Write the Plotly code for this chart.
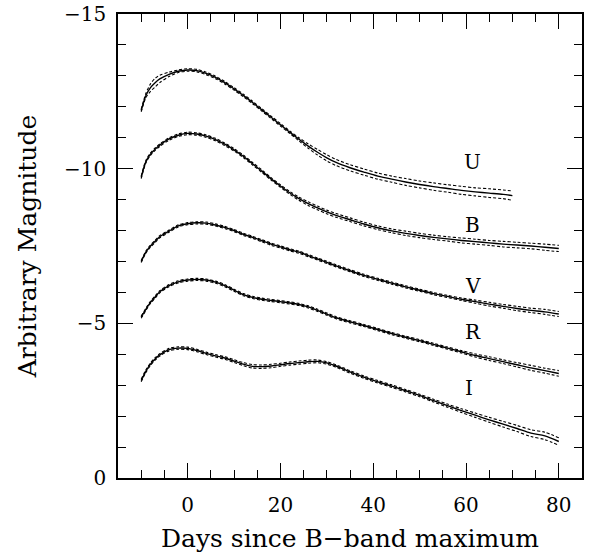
import plotly.graph_objects as go

# Epochs (days relative to B-band maximum)
days = [-10, -9, -8, -7, -6, -4, -2, 0, 2, 4, 6, 8, 10, 12, 14, 16, 18, 20, 22, 24,
        26, 28, 30, 32, 35, 38, 41, 44, 47, 50, 53, 56, 59, 62, 65, 68, 71, 74, 77, 80]
days_u = [-10, -9, -8, -7, -6, -4, -2, 0, 2, 4, 6, 8, 10, 12, 14, 16, 18, 20, 22, 24,
          26, 28, 30, 32, 35, 38, 41, 44, 47, 50, 53, 56, 59, 62, 65, 68, 70]

# Mean template magnitudes (arbitrary offsets per band)
u_mag = [-11.88, -12.36, -12.62, -12.78, -12.90, -13.05, -13.15, -13.19, -13.17, -13.08,
         -12.95, -12.78, -12.58, -12.37, -12.14, -11.90, -11.66, -11.42, -11.18, -10.95,
         -10.73, -10.53, -10.35, -10.20, -10.03, -9.89, -9.76, -9.66, -9.57, -9.49,
         -9.42, -9.36, -9.30, -9.25, -9.21, -9.17, -9.13]
b_mag = [-9.72, -10.22, -10.47, -10.63, -10.76, -10.96, -11.08, -11.14, -11.12, -11.05,
         -10.94, -10.79, -10.61, -10.40, -10.16, -9.92, -9.67, -9.44, -9.22, -9.03,
         -8.87, -8.73, -8.60, -8.49, -8.35, -8.21, -8.09, -7.99, -7.91, -7.84,
         -7.78, -7.73, -7.68, -7.64, -7.60, -7.56, -7.53, -7.50, -7.46, -7.42]
v_mag = [-7.00, -7.30, -7.50, -7.65, -7.80, -7.98, -8.15, -8.22, -8.25, -8.24,
         -8.18, -8.10, -8.00, -7.88, -7.78, -7.67, -7.56, -7.47, -7.38, -7.30,
         -7.19, -7.08, -6.97, -6.86, -6.70, -6.55, -6.42, -6.30, -6.18, -6.07,
         -5.96, -5.87, -5.78, -5.70, -5.62, -5.55, -5.48, -5.42, -5.37, -5.30]
r_mag = [-5.20, -5.45, -5.68, -5.85, -6.02, -6.22, -6.34, -6.40, -6.42, -6.40,
         -6.33, -6.22, -6.07, -5.93, -5.84, -5.78, -5.74, -5.70, -5.66, -5.61,
         -5.53, -5.42, -5.30, -5.18, -5.05, -4.93, -4.80, -4.67, -4.55, -4.44,
         -4.32, -4.20, -4.08, -3.96, -3.86, -3.76, -3.66, -3.56, -3.47, -3.38]
i_mag = [-3.15, -3.45, -3.68, -3.85, -3.98, -4.15, -4.20, -4.19, -4.12, -4.03,
         -3.95, -3.88, -3.78, -3.68, -3.61, -3.60, -3.62, -3.66, -3.70, -3.73,
         -3.76, -3.77, -3.72, -3.62, -3.43, -3.26, -3.11, -2.97, -2.82, -2.67,
         -2.50, -2.34, -2.18, -2.03, -1.88, -1.74, -1.60, -1.45, -1.36, -1.18]

# 1-sigma dispersion of each template
u_sig = [0.04, 0.07, 0.12, 0.14, 0.12, 0.07, 0.04, 0.04, 0.04, 0.04,
         0.04, 0.04, 0.04, 0.04, 0.04, 0.04, 0.04, 0.04, 0.04, 0.05,
         0.07, 0.09, 0.10, 0.10, 0.10, 0.10, 0.10, 0.10, 0.11, 0.11,
         0.12, 0.12, 0.13, 0.13, 0.14, 0.14, 0.15]
b_sig = [0.04, 0.04, 0.04, 0.04, 0.04, 0.04, 0.04, 0.04, 0.04, 0.04,
         0.04, 0.04, 0.04, 0.04, 0.04, 0.04, 0.04, 0.04, 0.045, 0.05,
         0.06, 0.06, 0.06, 0.06, 0.06, 0.06, 0.06, 0.06, 0.07, 0.07,
         0.07, 0.07, 0.08, 0.08, 0.08, 0.09, 0.09, 0.09, 0.10, 0.10]
v_sig = [0.035, 0.035, 0.035, 0.035, 0.035, 0.035, 0.035, 0.035, 0.035, 0.035,
         0.035, 0.035, 0.035, 0.035, 0.035, 0.035, 0.035, 0.035, 0.035, 0.035,
         0.035, 0.035, 0.035, 0.035, 0.035, 0.035, 0.035, 0.035, 0.035, 0.035,
         0.035, 0.035, 0.04, 0.05, 0.06, 0.06, 0.07, 0.07, 0.08, 0.08]
r_sig = [0.035, 0.035, 0.035, 0.035, 0.035, 0.035, 0.035, 0.035, 0.035, 0.035,
         0.035, 0.035, 0.035, 0.035, 0.035, 0.035, 0.035, 0.035, 0.035, 0.035,
         0.035, 0.035, 0.035, 0.035, 0.035, 0.035, 0.035, 0.035, 0.035, 0.035,
         0.035, 0.035, 0.04, 0.05, 0.06, 0.06, 0.07, 0.08, 0.08, 0.09]
i_sig = [0.04, 0.04, 0.04, 0.04, 0.04, 0.04, 0.04, 0.04, 0.04, 0.04,
         0.04, 0.04, 0.045, 0.05, 0.055, 0.055, 0.055, 0.05, 0.05, 0.05,
         0.05, 0.045, 0.04, 0.04, 0.04, 0.04, 0.04, 0.04, 0.04, 0.04,
         0.045, 0.05, 0.06, 0.07, 0.08, 0.09, 0.10, 0.11, 0.12, 0.12]

band_names = ["U", "B", "V", "R", "I"]
label_day = [61.5, 61.5, 61.4, 61.5, 60.7]
label_mag = [-10.22, -8.18, -6.22, -4.73, -2.90]

bands = [
    (days_u, u_mag, u_sig),
    (days, b_mag, b_sig),
    (days, v_mag, v_sig),
    (days, r_mag, r_sig),
    (days, i_mag, i_sig),
]

FONT = "DejaVu Serif"
fig = go.Figure()

for name, (t, m, s) in zip(band_names, bands):
    upper = [a - e for a, e in zip(m, s)]
    lower = [a + e for a, e in zip(m, s)]
    for env in (upper, lower):
        fig.add_trace(go.Scatter(
            x=t, y=env, mode="lines", showlegend=False, hoverinfo="skip",
            line=dict(color="black", width=1.1, dash="3px,2px", shape="spline", smoothing=0.8),
        ))
    fig.add_trace(go.Scatter(
        x=t, y=m, mode="lines", name=name, showlegend=False,
        line=dict(color="black", width=1.4, shape="spline", smoothing=0.8),
    ))

for name, xd, yd in zip(band_names, label_day, label_mag):
    fig.add_annotation(x=xd, y=yd, text=name, showarrow=False,
                       font=dict(family=FONT, size=20, color="black"))

axis_common = dict(
    showgrid=False, zeroline=False, showline=True, linecolor="black", linewidth=1.5,
    mirror="ticks", ticks="inside", tickcolor="black", tickwidth=1.2, ticklen=15,
    tickfont=dict(family=FONT, size=20, color="black"), automargin=False,
)

fig.update_xaxes(
    range=[-15, 85], tick0=0, dtick=20,
    minor=dict(dtick=5, ticks="inside", ticklen=8, tickcolor="black", tickwidth=1.2),
    title=dict(text="Days since B\u2212band maximum", font=dict(family=FONT, size=25, color="black"),
               standoff=14),
    ticklabelstandoff=8,
    **axis_common,
)
fig.update_yaxes(
    range=[0, -15], tick0=0, dtick=5,
    minor=dict(dtick=1, ticks="inside", ticklen=8, tickcolor="black", tickwidth=1.2),
    title=dict(text="Arbitrary Magnitude", font=dict(family=FONT, size=25, color="black"),
               standoff=20),
    ticklabelstandoff=6,
    **axis_common,
)

fig.update_layout(
    width=590, height=553,
    margin=dict(l=118, r=8, t=14, b=75),
    paper_bgcolor="white", plot_bgcolor="white",
    showlegend=False,
)

fig.write_html("out.html")
